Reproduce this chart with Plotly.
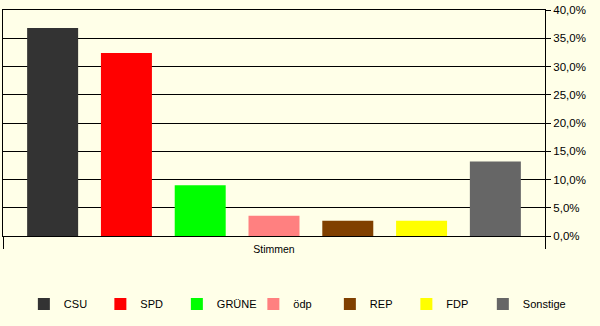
import plotly.graph_objects as go

parties = ["CSU", "SPD", "GRÜNE", "ödp", "REP", "FDP", "Sonstige"]
values = [36.8, 32.4, 9.0, 3.6, 2.7, 2.7, 13.2]
colors = ["#333333", "#FF0000", "#00FF00", "#FF8080", "#804000", "#FFFF00", "#666666"]
category = ["Stimmen"]
y_ticks = [0, 5, 10, 15, 20, 25, 30, 35, 40]
y_ticktext = [f"{t:.1f}%".replace(".", ",") for t in y_ticks]

BG = "#FFFFE8"
FAM = "Liberation Sans"
FONT = dict(family=FAM, size=11, color="#000000")

fig = go.Figure()
for i, (p, v, c) in enumerate(zip(parties, values, colors)):
    fig.add_trace(go.Bar(x=category, y=[v], name=p, marker=dict(color=c, line=dict(width=0)),
                         legend="legend2" if i == len(parties) - 1 else "legend"))

LEG_Y = -0.301
fig.update_layout(
    width=600, height=326,
    margin=dict(l=3, r=55, t=10, b=90),
    paper_bgcolor=BG, plot_bgcolor=BG,
    font=FONT,
    barmode="group", bargap=0.047, bargroupgap=0.309,
    showlegend=True,
    legend=dict(orientation="h", x=0.0385, xanchor="left", y=LEG_Y, yanchor="middle",
                entrywidth=31.5, entrywidthmode="pixels", font=FONT, bgcolor="rgba(0,0,0,0)",
                itemclick=False),
    legend2=dict(orientation="h", x=0.8853, xanchor="left", y=LEG_Y, yanchor="middle",
                 font=FONT, bgcolor="rgba(0,0,0,0)", itemclick=False),
    xaxis=dict(showline=True, linecolor="black", linewidth=1, mirror=True,
               ticks="outside", tickson="boundaries", ticklen=12, tickcolor="black", tickwidth=1,
               ticklabelstandoff=3, tickfont=dict(family=FAM, size=10.5, color="#000000"),
               showgrid=False, fixedrange=True),
    yaxis=dict(side="right", range=[0, 40], tickmode="array", tickvals=y_ticks, ticktext=y_ticktext,
               tickfont=dict(family=FAM, size=11.5, color="#000000"),
               showline=True, linecolor="black", linewidth=1, mirror=True,
               ticks="outside", ticklen=5, tickcolor="black", tickwidth=1,
               showgrid=True, gridcolor="black", gridwidth=1, zeroline=False, fixedrange=True),
)

fig.write_html("out.html", config={"displayModeBar": False})
